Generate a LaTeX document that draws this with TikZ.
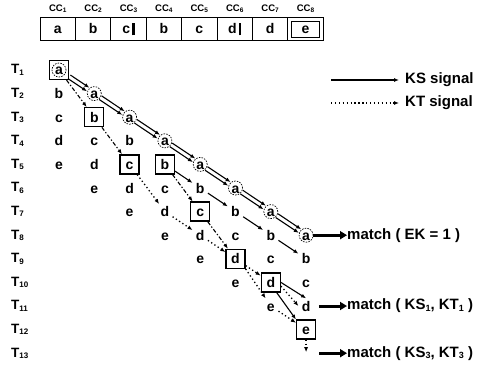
\documentclass[tikz,border=0pt]{standalone}
\usepackage{fontspec}
\setmainfont{Liberation Sans}
\usetikzlibrary{arrows.meta}
\newcommand\sbx[2]{\raisebox{-1.3pt}{\fontsize{#1}{#1}\selectfont #2}}
\begin{document}
\begin{tikzpicture}[x=1pt,y=-1pt,
  lt/.style={font=\fontsize{14}{14}\selectfont\bfseries, inner sep=0pt, minimum size=15pt, text height=10pt, text depth=0pt},
  bx/.style={lt, draw, line width=1.3pt, minimum size=19pt},
  ca/.style={lt, circle, draw, dash pattern=on 1.5pt off 1.2pt, line width=0.7pt, minimum size=14pt},
  cell/.style={draw, line width=1pt, minimum width=35.4pt, minimum height=23pt, inner sep=0pt, text height=10pt, text depth=0pt, font=\fontsize{14}{14}\selectfont\bfseries},
  cclab/.style={font=\fontsize{9.5}{9.5}\selectfont\bfseries, inner sep=0pt},
  tlab/.style={font=\fontsize{13.5}{13.5}\selectfont\bfseries, inner sep=0pt, anchor=west},
  txt/.style={font=\fontsize{15}{15}\selectfont\bfseries, inner sep=0pt, anchor=west},
  tip/.style={-{Latex[length=5pt,width=4pt]}},
  ks/.style={tip, line width=1.1pt},
  kt/.style={tip, line width=1.3pt, dash pattern=on 1.3pt off 2.6pt},
  kd/.style={tip, line width=1.1pt, dash pattern=on 4pt off 2pt on 1.3pt off 2pt},
  mt/.style={line width=3pt, -{Triangle[length=7pt,width=8pt]}}
]
\useasboundingbox (0,0) rectangle (489,366);

% top register
\node[cell] (cc1) at (57.7,29) {a};
\node[cell] (cc2) at (93.1,29) {b};
\node[cell] (cc3) at (128.5,29) {c\hspace{2pt}\rule[-1.5pt]{2.4pt}{12pt}};
\node[cell] (cc4) at (163.9,29) {b};
\node[cell] (cc5) at (199.3,29) {c};
\node[cell] (cc6) at (234.7,29) {d\hspace{2pt}\rule[-1.5pt]{2.4pt}{12pt}};
\node[cell] (cc7) at (270.1,29) {d};
\node[cell] (cc8) at (305.5,29) {e};
\node[draw, line width=0.9pt, minimum width=28pt, minimum height=16pt] (cc8in) at (cc8) {};
\foreach \i/\x in {1/57.7,2/93.1,3/128.5,4/163.9,5/199.3,6/234.7,7/270.1,8/305.5}
  \node[cclab] (ccl\i) at (\x,9) {CC\sbx{6.5}{\i}};

% time labels
\foreach \r in {1,...,13}
  \node[tlab] (t\r) at (11,{70+23.6*(\r-1)}) {T\sbx{8}{\r}};

% grid cells
\def\cx#1{59+35.3*#1}
\def\ry#1{70+23.6*(#1-1)}
% row 1
\node[bx] (n1-0) at ({\cx0},{\ry1}) {a};
\node[ca] (n1-0c) at (n1-0) {};
% row 2
\node[lt] (n2-0) at ({\cx0},{\ry2}) {b};
\node[ca] (n2-1) at ({\cx1},{\ry2}) {a};
% row 3
\node[lt] (n3-0) at ({\cx0},{\ry3}) {c};
\node[bx] (n3-1) at ({\cx1},{\ry3}) {b};
\node[ca] (n3-2) at ({\cx2},{\ry3}) {a};
% row 4
\node[lt] (n4-0) at ({\cx0},{\ry4}) {d};
\node[lt] (n4-1) at ({\cx1},{\ry4}) {c};
\node[lt] (n4-2) at ({\cx2},{\ry4}) {b};
\node[ca] (n4-3) at ({\cx3},{\ry4}) {a};
% row 5
\node[lt] (n5-0) at ({\cx0},{\ry5}) {e};
\node[lt] (n5-1) at ({\cx1},{\ry5}) {d};
\node[bx] (n5-2) at ({\cx2},{\ry5}) {c};
\node[bx] (n5-3) at ({\cx3},{\ry5}) {b};
\node[ca] (n5-4) at ({\cx4},{\ry5}) {a};
% row 6
\node[lt] (n6-1) at ({\cx1},{\ry6}) {e};
\node[lt] (n6-2) at ({\cx2},{\ry6}) {d};
\node[lt] (n6-3) at ({\cx3},{\ry6}) {c};
\node[lt] (n6-4) at ({\cx4},{\ry6}) {b};
\node[ca] (n6-5) at ({\cx5},{\ry6}) {a};
% row 7
\node[lt] (n7-2) at ({\cx2},{\ry7}) {e};
\node[lt] (n7-3) at ({\cx3},{\ry7}) {d};
\node[bx] (n7-4) at ({\cx4},{\ry7}) {c};
\node[lt] (n7-5) at ({\cx5},{\ry7}) {b};
\node[ca] (n7-6) at ({\cx6},{\ry7}) {a};
% row 8
\node[lt] (n8-3) at ({\cx3},{\ry8}) {e};
\node[lt] (n8-4) at ({\cx4},{\ry8}) {d};
\node[lt] (n8-5) at ({\cx5},{\ry8}) {c};
\node[lt] (n8-6) at ({\cx6},{\ry8}) {b};
\node[ca] (n8-7) at ({\cx7},{\ry8}) {a};
% row 9
\node[lt] (n9-4) at ({\cx4},{\ry9}) {e};
\node[bx] (n9-5) at ({\cx5},{\ry9}) {d};
\node[lt] (n9-6) at ({\cx6},{\ry9}) {c};
\node[lt] (n9-7) at ({\cx7},{\ry9}) {b};
% row 10
\node[lt] (n10-5) at ({\cx5},{\ry{10}}) {e};
\node[bx] (n10-6) at ({\cx6},{\ry{10}}) {d};
\node[lt] (n10-7) at ({\cx7},{\ry{10}}) {c};
% row 11
\node[lt] (n11-6) at ({\cx6},{\ry{11}}) {e};
\node[lt] (n11-7) at ({\cx7},{\ry{11}}) {d};
% row 12
\node[bx] (n12-7) at ({\cx7},{\ry{12}}) {e};
% row 13
\coordinate (c13) at ({\cx7},{\ry{13}-1});
\coordinate (s3) at (319,{\ry{13}});

% KS double chain along the a diagonal
\foreach \a/\b in {n1-0/n2-1,n2-1/n3-2,n3-2/n4-3,n4-3/n5-4,n5-4/n6-5,n6-5/n7-6,n7-6/n8-7}{
  \draw[ks, transform canvas={xshift=-1.2pt, yshift=-1.8pt}] (\a) -- (\b);
  \draw[ks, transform canvas={xshift=1.2pt, yshift=1.8pt}] (\a) -- (\b);
}
% KS single arrows
\draw[ks] (n5-3) -- (n6-4);
\draw[ks] (n6-4) -- (n7-5);
\draw[ks] (n7-5) -- (n8-6);
\draw[ks] (n8-6) -- (n9-7);
\draw[ks] (n10-6.east) -- (n11-7.north);
\draw[ks] (n10-6.-60) -- (n12-7.north west);
% dash-dot links between boxes
\draw[kd] (n1-0) -- (n3-1);
\draw[kd] (n3-1) -- (n5-2);
\draw[kd] (n5-3) -- (n7-4);
\draw[kd] (n7-4) -- (n9-5);
% KT dotted
\draw[kt] (n5-2) -- (n7-3);
\draw[kt] (n7-3) -- (n8-4);
\draw[kt] (n8-4) -- (n9-5);
\draw[kt] (n9-5) -- (n10-6);
\draw[kt] (n9-5.south east) -- (n11-6);
\draw[kt] (n10-6.-20) -- (n11-7.west);
\draw[kt] (n11-6) -- (n12-7);
\draw[kt] (n12-7) -- (c13);

% legend
\coordinate (lk1) at (331,80);
\coordinate (lk2) at (331,103);
\node[txt] (kslab) at (405,80) {KS signal};
\node[txt] (ktlab) at (405,103) {KT signal};
\draw[ks] (lk1) -- ([xshift=-6pt]kslab.west);
\draw[kt] (lk2) -- ([xshift=-6pt]ktlab.west);

% match outputs
\node[txt] (m1) at (347,{\ry8}) {match ( EK = 1 )};
\node[txt] (m2) at (347,{\ry{11}}) {match ( KS\sbx{9}{1}, KT\sbx{9}{1} )};
\node[txt] (m3) at (347,{\ry{13}}) {match ( KS\sbx{9}{3}, KT\sbx{9}{3} )};
\draw[mt] (n8-7.east) -- (m1.west);
\draw[mt] ([xshift=5pt]n11-7.east) -- (m2.west);
\draw[mt] (s3) -- (m3.west);
\end{tikzpicture}
\end{document}
